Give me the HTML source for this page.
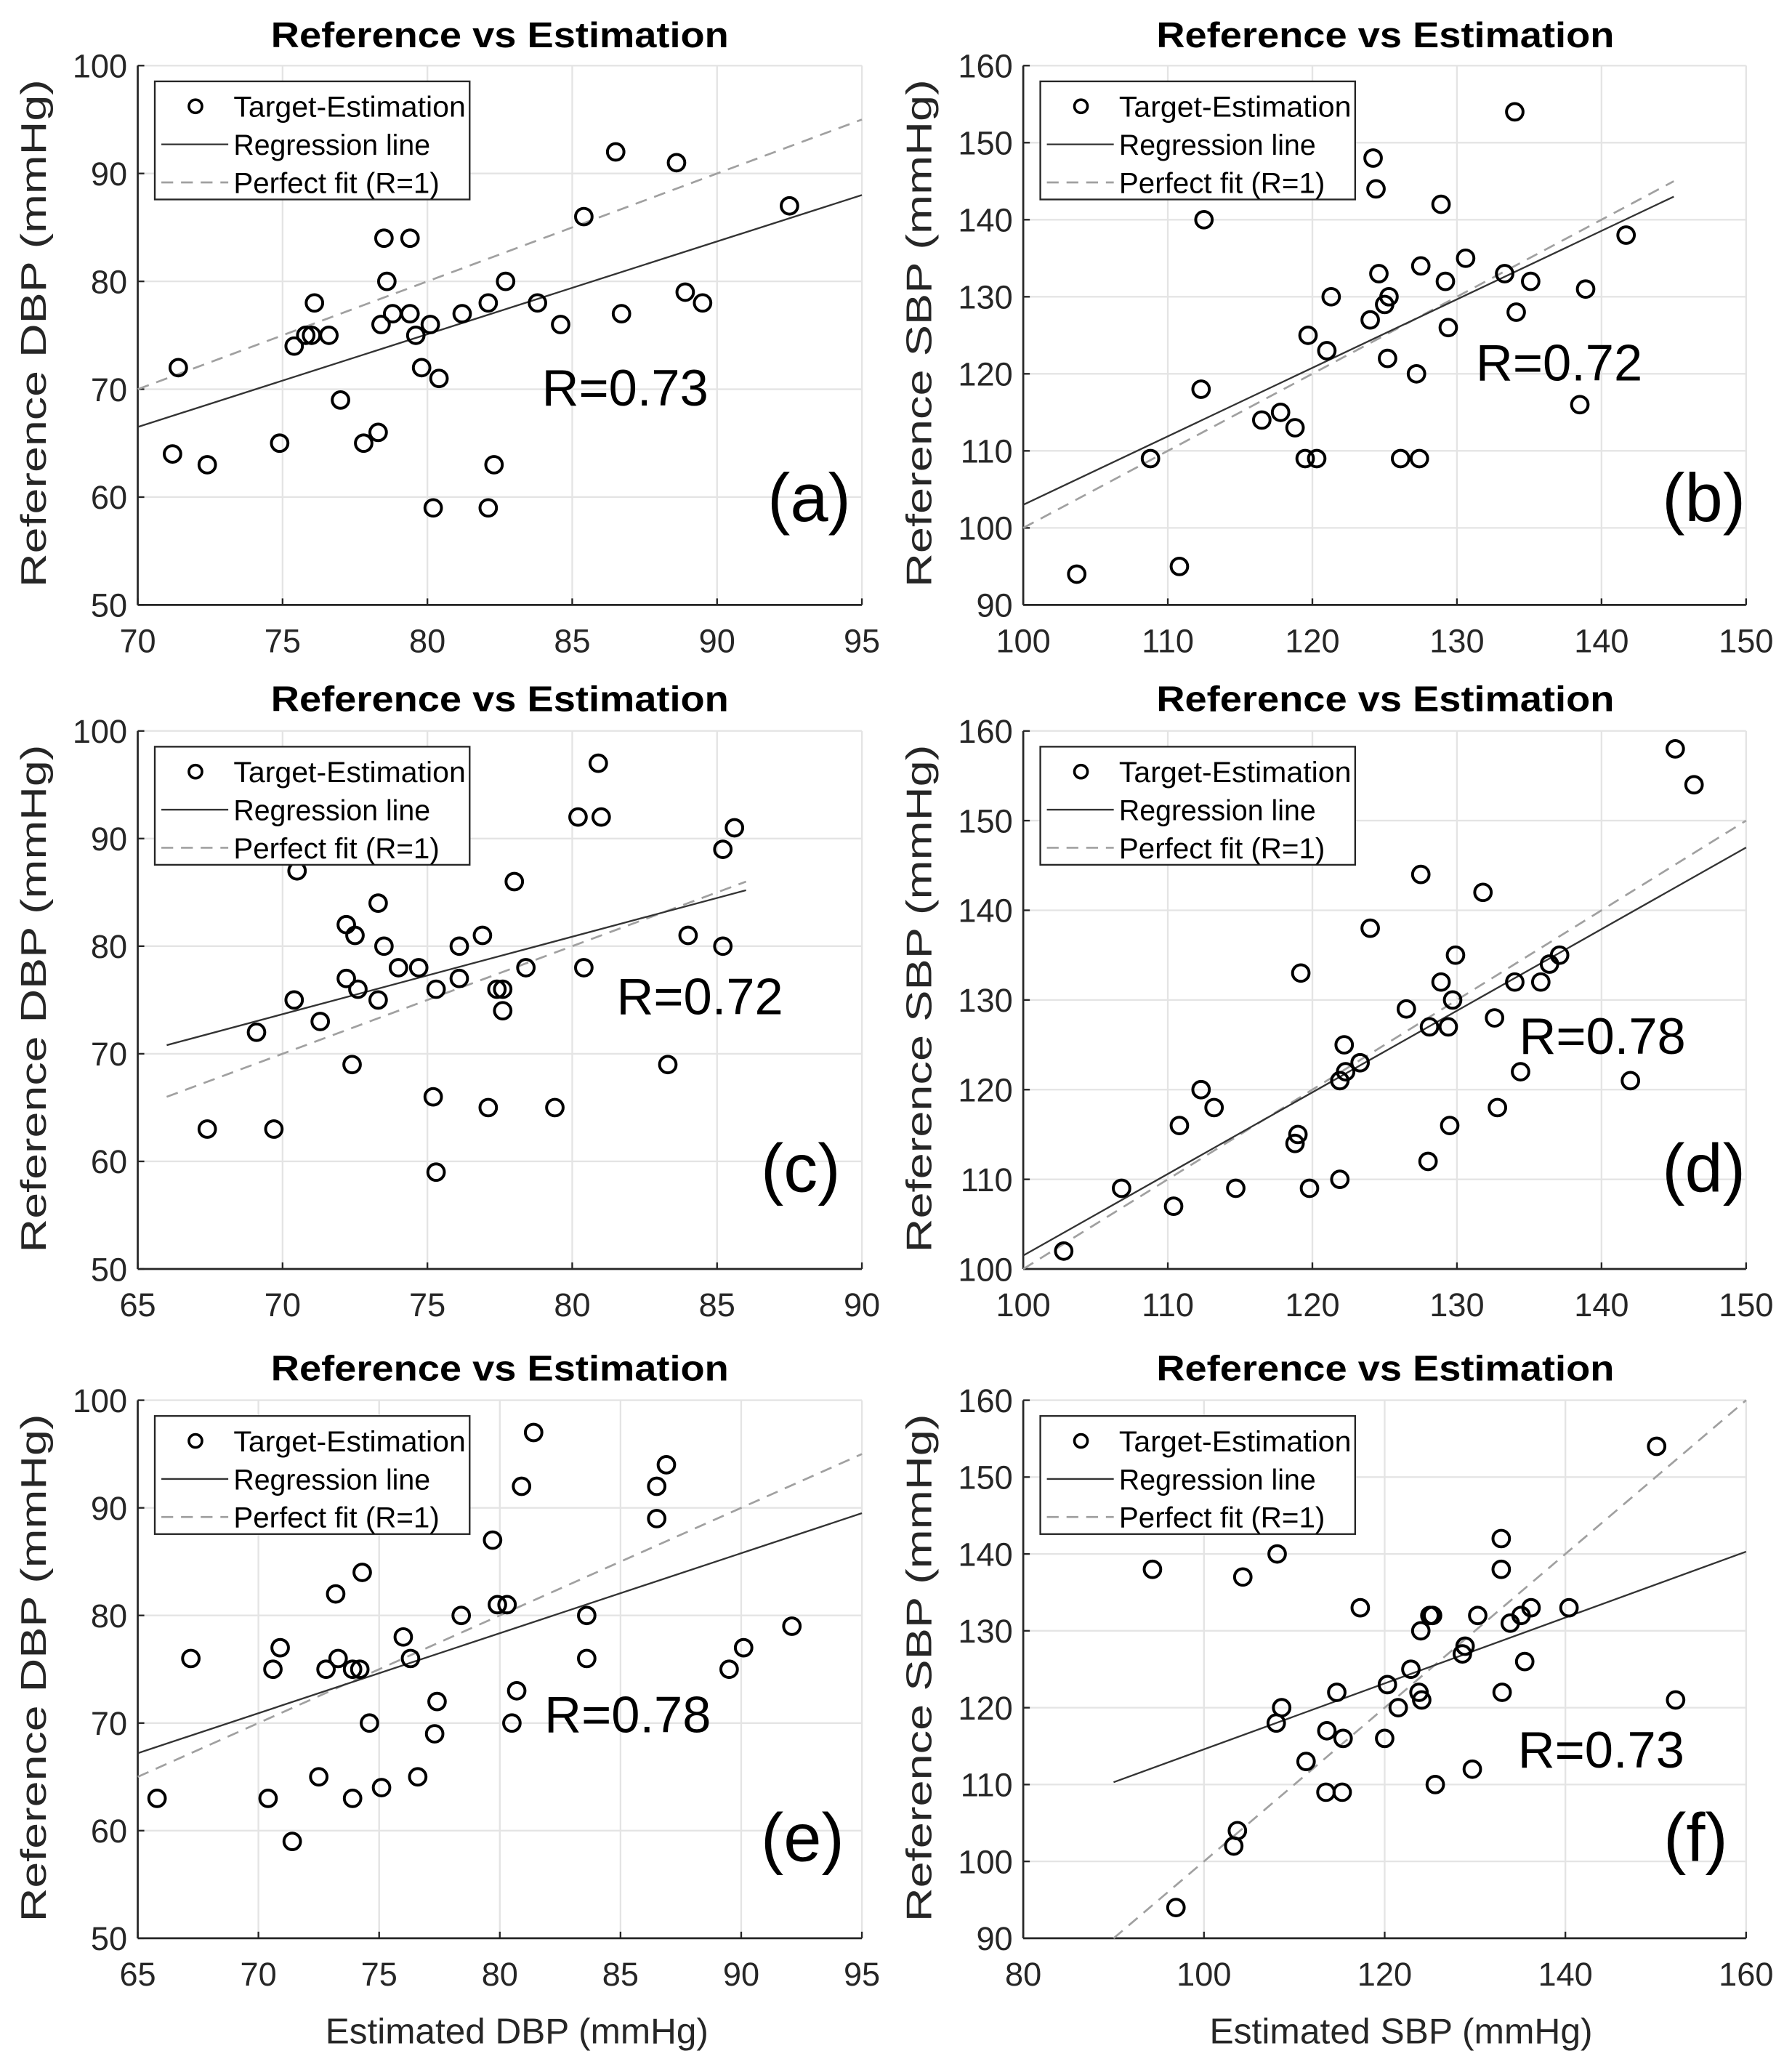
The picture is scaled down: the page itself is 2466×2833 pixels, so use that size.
<!DOCTYPE html>
<html><head><meta charset="utf-8"><style>html,body{margin:0;padding:0;background:#fff}svg{display:block}</style></head>
<body>
<svg id="s" width="2466" height="2833" viewBox="0 0 1366 1569" preserveAspectRatio="none" xmlns="http://www.w3.org/2000/svg" font-family="Liberation Sans, sans-serif">
<g id="plots"></g>
<g font-weight="bold" font-size="27" text-anchor="middle" fill="#000">
<text x="381" y="36" textLength="349" lengthAdjust="spacingAndGlyphs">Reference vs Estimation</text>
<text x="1056" y="36" textLength="349" lengthAdjust="spacingAndGlyphs">Reference vs Estimation</text>
<text x="381" y="542" textLength="349" lengthAdjust="spacingAndGlyphs">Reference vs Estimation</text>
<text x="1056" y="542" textLength="349" lengthAdjust="spacingAndGlyphs">Reference vs Estimation</text>
<text x="381" y="1052" textLength="349" lengthAdjust="spacingAndGlyphs">Reference vs Estimation</text>
<text x="1056" y="1052" textLength="349" lengthAdjust="spacingAndGlyphs">Reference vs Estimation</text>
</g>
<g font-size="27" fill="#262626" text-anchor="middle">
<text transform="translate(35,254) rotate(-90)" textLength="387" lengthAdjust="spacingAndGlyphs">Reference DBP (mmHg)</text>
<text transform="translate(710,254) rotate(-90)" textLength="387" lengthAdjust="spacingAndGlyphs">Reference SBP (mmHg)</text>
<text transform="translate(35,761) rotate(-90)" textLength="387" lengthAdjust="spacingAndGlyphs">Reference DBP (mmHg)</text>
<text transform="translate(710,761) rotate(-90)" textLength="387" lengthAdjust="spacingAndGlyphs">Reference SBP (mmHg)</text>
<text transform="translate(35,1271) rotate(-90)" textLength="387" lengthAdjust="spacingAndGlyphs">Reference DBP (mmHg)</text>
<text transform="translate(710,1271) rotate(-90)" textLength="387" lengthAdjust="spacingAndGlyphs">Reference SBP (mmHg)</text>
<text x="394" y="1557" textLength="292" lengthAdjust="spacingAndGlyphs">Estimated DBP (mmHg)</text>
<text x="1068" y="1557" textLength="292" lengthAdjust="spacingAndGlyphs">Estimated SBP (mmHg)</text>
</g>
<g font-size="39" fill="#000">
<text x="413" y="309" textLength="127" lengthAdjust="spacingAndGlyphs">R=0.73</text>
<text x="1125" y="290" textLength="127" lengthAdjust="spacingAndGlyphs">R=0.72</text>
<text x="470" y="773" textLength="127" lengthAdjust="spacingAndGlyphs">R=0.72</text>
<text x="1158" y="803" textLength="127" lengthAdjust="spacingAndGlyphs">R=0.78</text>
<text x="415" y="1320" textLength="127" lengthAdjust="spacingAndGlyphs">R=0.78</text>
<text x="1157" y="1347" textLength="127" lengthAdjust="spacingAndGlyphs">R=0.73</text>
</g>
<g font-size="52" fill="#000">
<text x="585" y="397">(a)</text>
<text x="1267" y="397">(b)</text>
<text x="580" y="908">(c)</text>
<text x="1267" y="908">(d)</text>
<text x="580" y="1418">(e)</text>
<text x="1268" y="1418">(f)</text>
</g>
</svg>
<script>
const NS="http://www.w3.org/2000/svg";
const G=document.getElementById('plots');
function el(t,a,txt){const e=document.createElementNS(NS,t);for(const k in a)e.setAttribute(k,a[k]);if(txt!==undefined)e.textContent=txt;G.appendChild(e);return e;}
const P=[
{L:105,R:657,T:50,B:461,x0:70,x1:95,xs:5,y0:50,y1:100,ys:10,reg:[70,66.5,95,88],pf:[70,70,95,95],
pts:[[71.2,64],[71.4,72],[72.4,63],[74.9,65],[75.4,74],[75.8,75],[76,75],[76.1,78],[76.6,75],[77,69],[77.8,65],[78.3,66],[78.4,76],[78.5,84],[78.6,80],[78.8,77],[79.4,84],[79.4,77],[79.6,75],[79.8,72],[80.1,76],[80.2,59],[80.4,71],[81.2,77],[82.1,78],[82.1,59],[82.3,63],[82.7,80],[83.8,78],[84.6,76],[85.4,86],[86.5,92],[86.7,77],[88.6,91],[88.9,79],[89.5,78],[92.5,87]]},
{L:780,R:1331,T:50,B:461,x0:100,x1:150,xs:10,y0:90,y1:160,ys:10,reg:[100,103,145,143],pf:[100,100,145,145],
pts:[[103.7,94],[108.8,109],[110.8,95],[112.3,118],[112.5,140],[116.5,114],[117.8,115],[118.8,113],[119.5,109],[119.7,125],[120.3,109],[121,123],[121.3,130],[124,127],[124.2,148],[124.4,144],[124.6,133],[125,129],[125.2,122],[125.3,130],[126.1,109],[127.2,120],[127.4,109],[127.5,134],[128.9,142],[129.2,132],[129.4,126],[130.6,135],[133.3,133],[134,154],[134.1,128],[135.1,132],[138.5,116],[138.9,131],[141.7,138]]},
{L:105,R:657,T:557,B:967,x0:65,x1:90,xs:5,y0:50,y1:100,ys:10,reg:[66,70.8,86,85.2],pf:[66,66,86,86],
pts:[[67.4,63],[69.1,72],[69.7,63],[70.4,75],[70.5,87],[71.3,73],[72.2,82],[72.2,77],[72.4,69],[72.5,81],[72.6,76],[73.3,75],[73.3,84],[73.5,80],[74,78],[74.7,78],[75.2,66],[75.3,76],[75.3,59],[76.1,77],[76.1,80],[76.9,81],[77.1,65],[77.4,76],[77.6,74],[77.6,76],[78,86],[78.4,78],[79.4,65],[80.2,92],[80.4,78],[80.9,97],[81,92],[83.3,69],[84,81],[85.2,89],[85.2,80],[85.6,91]]},
{L:780,R:1331,T:557,B:967,x0:100,x1:150,xs:10,y0:100,y1:160,ys:10,reg:[100,101.5,150,147],pf:[100,100,150,150],
pts:[[102.8,102],[106.8,109],[110.4,107],[110.8,116],[112.3,120],[113.2,118],[114.7,109],[118.8,114],[119,115],[119.2,133],[119.8,109],[121.9,110],[121.9,121],[122.2,125],[122.3,122],[123.3,123],[124,138],[126.5,129],[127.5,144],[128,112],[128.1,127],[128.9,132],[129.4,127],[129.5,116],[129.7,130],[129.9,135],[131.8,142],[132.6,128],[132.8,118],[134,132],[134.4,122],[135.8,132],[136.4,134],[137.1,135],[142,121],[145.1,158],[146.4,154]]},
{L:105,R:657,T:1067,B:1477,x0:65,x1:95,xs:5,y0:50,y1:100,ys:10,reg:[65,67.2,95,89.5],pf:[65,65,95,95],
pts:[[65.8,63],[67.2,76],[70.4,63],[70.6,75],[70.9,77],[71.4,59],[72.5,65],[72.8,75],[73.2,82],[73.3,76],[73.9,63],[73.9,75],[74.2,75],[74.3,84],[74.6,70],[75.1,64],[76,78],[76.3,76],[76.6,65],[77.3,69],[77.4,72],[78.4,80],[79.7,87],[79.9,81],[80.3,81],[80.5,70],[80.7,73],[80.9,92],[81.4,97],[83.6,80],[83.6,76],[86.5,92],[86.5,89],[86.9,94],[89.5,75],[90.1,77],[92.1,79]]},
{L:780,R:1331,T:1067,B:1477,x0:80,x1:160,xs:20,y0:90,y1:160,ys:10,reg:[90,110.3,160,140.3],pf:[90,90,160,160],
pts:[[94.3,138],[96.9,94],[103.3,102],[103.7,104],[104.3,137],[108,118],[108.1,140],[108.6,120],[111.3,113],[113.5,109],[113.6,117],[114.7,122],[115.3,109],[115.4,116],[117.3,133],[120,116],[120.3,123],[121.5,120],[122.9,125],[123.8,122],[124,130],[124.1,121],[125,132],[125.3,132],[128.6,127],[128.9,128],[129.7,112],[130.3,132],[125.6,110],[132.9,142],[132.9,138],[133,122],[133.9,131],[135.1,132],[135.5,126],[136.2,133],[140.4,133],[150.1,154],[152.2,121]]}
];
for(const p of P){
 const X=v=>p.L+(v-p.x0)/(p.x1-p.x0)*(p.R-p.L), Y=v=>p.B-(v-p.y0)/(p.y1-p.y0)*(p.B-p.T);
 for(let v=p.x0;v<=p.x1+1e-9;v+=p.xs){const x=X(v);el('line',{x1:x,x2:x,y1:p.T,y2:p.B,stroke:'#e4e4e4','stroke-width':1.3});
  el('line',{x1:x,x2:x,y1:p.B,y2:p.B-5,stroke:'#262626','stroke-width':1.3});
  el('text',{x:x,y:p.B+36,'font-size':25,'text-anchor':'middle',fill:'#262626'},String(v));}
 for(let v=p.y0;v<=p.y1+1e-9;v+=p.ys){const y=Y(v);el('line',{x1:p.L,x2:p.R,y1:y,y2:y,stroke:'#e4e4e4','stroke-width':1.3});
  el('line',{x1:p.L,x2:p.L+5,y1:y,y2:y,stroke:'#262626','stroke-width':1.3});
  el('text',{x:p.L-8,y:y+9,'font-size':25,'text-anchor':'end',fill:'#262626'},String(v));}
 el('line',{x1:p.L,x2:p.R,y1:p.B,y2:p.B,stroke:'#262626','stroke-width':1.5});
 el('line',{x1:p.L,x2:p.L,y1:p.T,y2:p.B,stroke:'#262626','stroke-width':1.5});
 el('line',{x1:X(p.pf[0]),y1:Y(p.pf[1]),x2:X(p.pf[2]),y2:Y(p.pf[3]),stroke:'#a0a0a0','stroke-width':1.5,'stroke-dasharray':'9,6'});
 el('line',{x1:X(p.reg[0]),y1:Y(p.reg[1]),x2:X(p.reg[2]),y2:Y(p.reg[3]),stroke:'#333','stroke-width':1.3});
 for(const q of p.pts)el('circle',{cx:X(q[0]),cy:Y(q[1]),r:6.3,fill:'none',stroke:'#000','stroke-width':2.2});
 const lx=p.L+13, ly=p.T+12;
 el('rect',{x:lx,y:ly,width:240,height:90,fill:'#fff',stroke:'#262626','stroke-width':1.3});
 el('circle',{cx:lx+31,cy:ly+19,r:5,fill:'none',stroke:'#000','stroke-width':2});
 el('line',{x1:lx+5,x2:lx+56,y1:ly+48,y2:ly+48,stroke:'#333','stroke-width':1.3});
 el('line',{x1:lx+5,x2:lx+56,y1:ly+77,y2:ly+77,stroke:'#a0a0a0','stroke-width':1.5,'stroke-dasharray':'9,6'});
 const t=[['Target-Estimation',27,177],['Regression line',56,150],['Perfect fit (R=1)',85,157]];
 for(const [s,dy,w] of t)el('text',{x:lx+60,y:ly+dy,'font-size':22,fill:'#000',textLength:w,lengthAdjust:'spacingAndGlyphs'},s);
}
</script>
</body></html>
